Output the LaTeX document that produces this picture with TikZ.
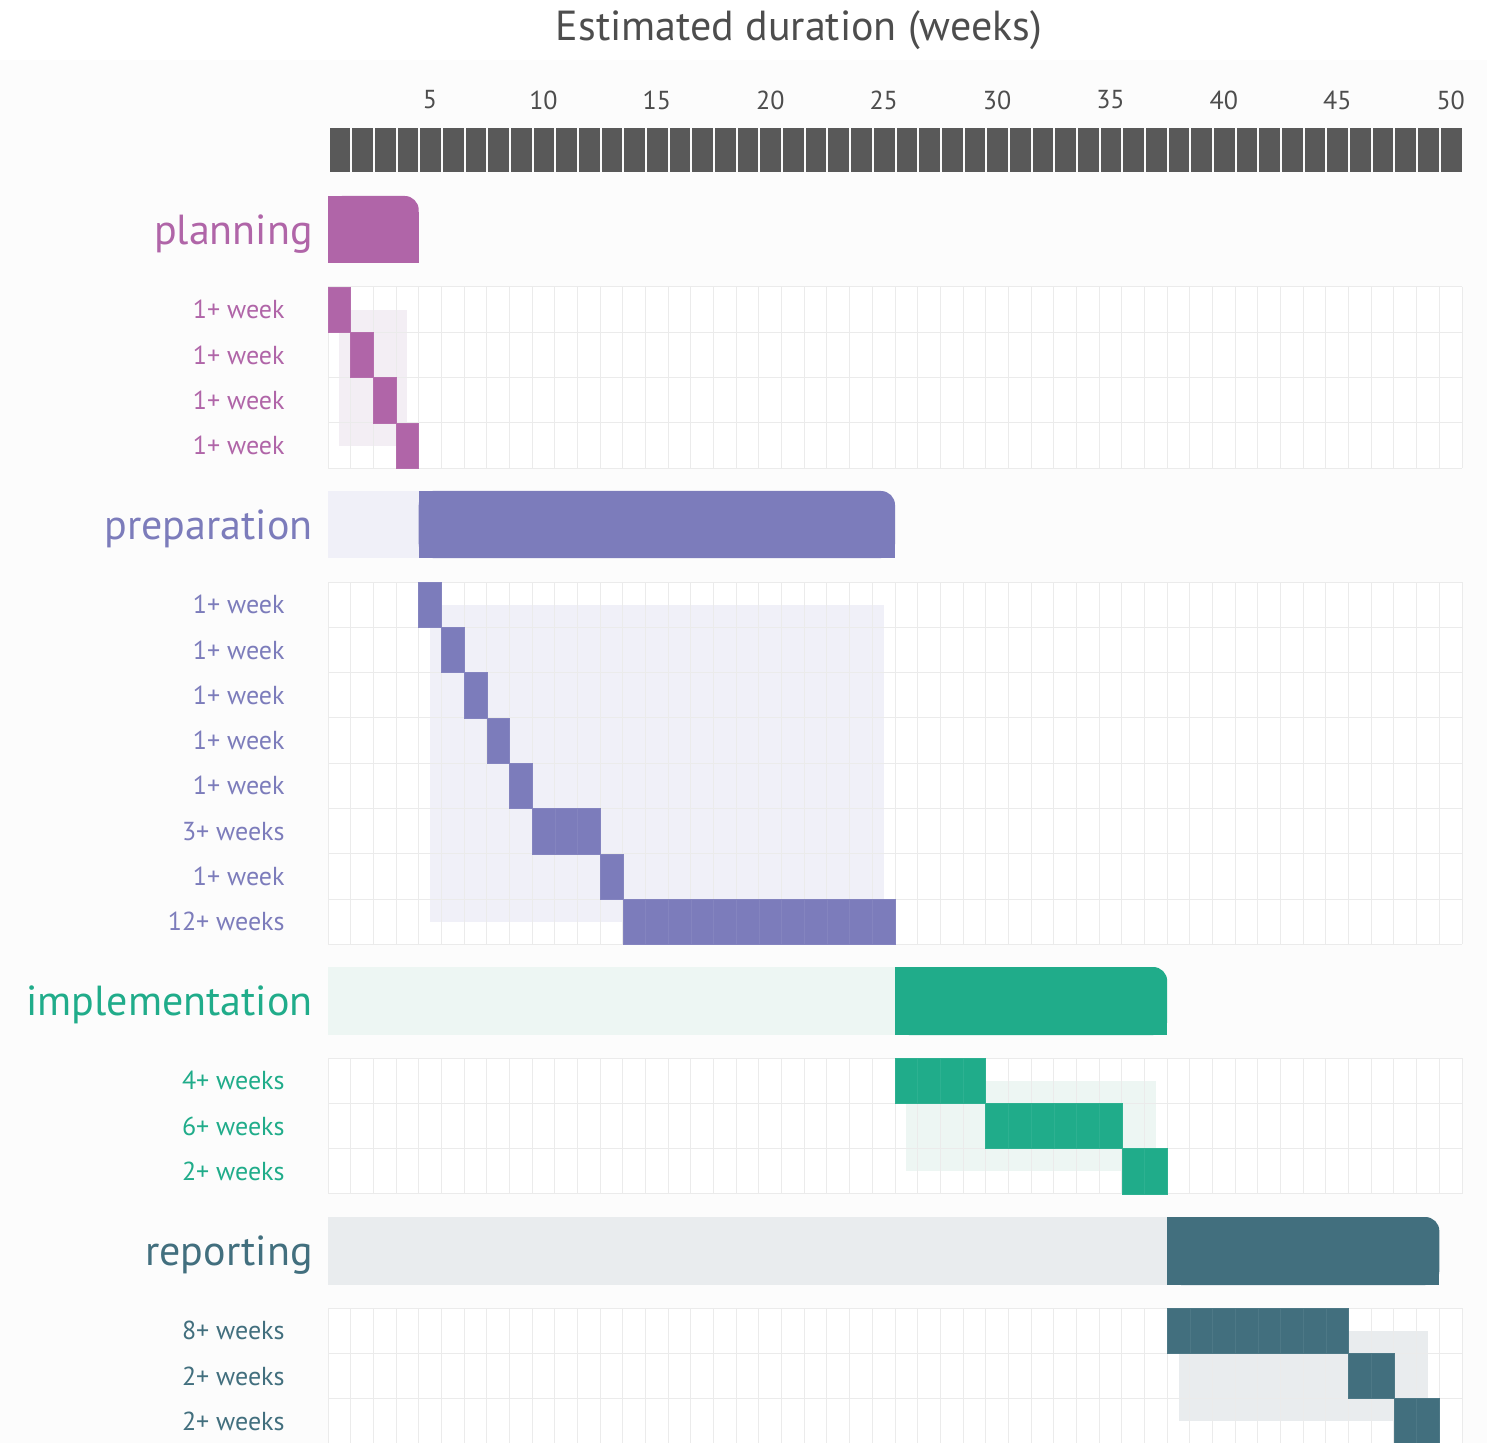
\documentclass[tikz,border=0pt]{standalone}
\usepackage{fontspec}
\setmainfont{PT Sans}
\usetikzlibrary{calc,positioning}
\usepackage{xcolor}
\newcommand{\wkunit}{22.68}
\newcommand{\rowunit}{45.3}
\newcommand{\gridx}{328}
\newcommand{\gridend}{1462}
\definecolor{plancol}{HTML}{B065A8}
\definecolor{prepcol}{HTML}{7C7CBB}
\definecolor{implcol}{HTML}{20AC8A}
\definecolor{repcol}{HTML}{426F7E}
\definecolor{planlight}{HTML}{F3EEF4}
\definecolor{preplight}{HTML}{F0F0F8}
\definecolor{impllight}{HTML}{EDF6F3}
\definecolor{replight}{HTML}{E9ECEE}
\definecolor{pagegray}{HTML}{FCFCFC}
\definecolor{gridgray}{HTML}{EBEBEB}
\definecolor{weekgray}{HTML}{595959}
\definecolor{textgray}{HTML}{4D4D4D}
\tikzset{
    titlesty/.style={text=textgray,font=\fontsize{21}{24}\selectfont,anchor=center,inner sep=0pt},
    ticksty/.style={text=textgray,font=\fontsize{13}{15}\selectfont,anchor=center,inner sep=0pt},
    phasesty/.style={font=\fontsize{21}{24}\selectfont,anchor=east,inner sep=0pt},
    tasksty/.style={font=\fontsize{13}{15}\selectfont,anchor=east,inner sep=0pt},
    weeksty/.style={fill=weekgray},
    gridsty/.style={draw=gridgray,line width=0.5pt},
    cellsty/.style={line width=0.25pt},
}

\begin{document}
\begin{tikzpicture}[x=0.5pt,y=-0.5pt]
\useasboundingbox (0,0) rectangle (1487,1443);
\fill[white] (0,0) rectangle (1487,60);
\fill[pagegray] (0,60) rectangle (1487,1443);

% title and week scale
\node[titlesty] (title) at (799,30) {Estimated duration (weeks)};
\foreach \t in {5,10,...,50}
  \node[ticksty] (tick-\t) at ({\gridx+(\t-0.5)*\wkunit},100) {\t};
\foreach \k in {1,...,50}
  \fill[weeksty] ({\gridx+(\k-1)*\wkunit+1.5},128) rectangle ({\gridx+\k*\wkunit-0.5},172);

% planning
\node[phasesty,text=plancol] (planning) at (313,234) {planning};
\fill[plancol,rounded corners=7pt] (\gridx,196) rectangle ({\gridx+4*\wkunit},263);
\fill[plancol] (\gridx,196) rectangle ({\gridx+4*\wkunit-14},263);
\fill[plancol] (\gridx,212) rectangle ({\gridx+4*\wkunit},263);
\fill[white] (\gridx,287) rectangle (\gridend,{287+4*\rowunit});
\fill[planlight] ({\gridx+0.5*\wkunit},{287+0.5*\rowunit}) rectangle ({\gridx+3.5*\wkunit},{287+3.5*\rowunit});
\foreach \k in {0,...,50}
  \draw[gridsty] ({\gridx+\k*\wkunit},287) -- ++(0,{4*\rowunit});
\foreach \r in {0,...,4}
  \draw[gridsty] (\gridx,{287+\r*\rowunit}) -- (\gridend,{287+\r*\rowunit});
\foreach \r/\a/\b/\lbl in {1/1/1/1+ week,2/2/2/1+ week,3/3/3/1+ week,4/4/4/1+ week}{
  \node[tasksty,text=plancol] (plan-\r) at (285,{287+(\r-0.5)*\rowunit}) {\lbl};
  \foreach \c in {\a,...,\b}
    \filldraw[cellsty,fill=plancol,draw=plancol!94!white] ({\gridx+(\c-1)*\wkunit},{287+(\r-1)*\rowunit}) rectangle ({\gridx+\c*\wkunit},{287+\r*\rowunit});
}

% preparation
\node[phasesty,text=prepcol] (preparation) at (313,529) {preparation};
\fill[preplight] (\gridx,491) rectangle ({\gridx+4*\wkunit},558);
\fill[prepcol,rounded corners=7pt] ({\gridx+4*\wkunit},491) rectangle ({\gridx+25*\wkunit},558);
\fill[prepcol] ({\gridx+4*\wkunit},491) rectangle ({\gridx+25*\wkunit-14},558);
\fill[prepcol] ({\gridx+4*\wkunit},507) rectangle ({\gridx+25*\wkunit},558);
\fill[white] (\gridx,582) rectangle (\gridend,{582+8*\rowunit});
\fill[preplight] ({\gridx+4.5*\wkunit},{582+0.5*\rowunit}) rectangle ({\gridx+24.5*\wkunit},{582+7.5*\rowunit});
\foreach \k in {0,...,50}
  \draw[gridsty] ({\gridx+\k*\wkunit},582) -- ++(0,{8*\rowunit});
\foreach \r in {0,...,8}
  \draw[gridsty] (\gridx,{582+\r*\rowunit}) -- (\gridend,{582+\r*\rowunit});
\foreach \r/\a/\b/\lbl in {1/5/5/1+ week,2/6/6/1+ week,3/7/7/1+ week,4/8/8/1+ week,
    5/9/9/1+ week,6/10/12/3+ weeks,7/13/13/1+ week,8/14/25/12+ weeks}{
  \node[tasksty,text=prepcol] (prep-\r) at (285,{582+(\r-0.5)*\rowunit}) {\lbl};
  \foreach \c in {\a,...,\b}
    \filldraw[cellsty,fill=prepcol,draw=prepcol!94!white] ({\gridx+(\c-1)*\wkunit},{582+(\r-1)*\rowunit}) rectangle ({\gridx+\c*\wkunit},{582+\r*\rowunit});
}

% implementation
\node[phasesty,text=implcol] (implementation) at (313,1005) {implementation};
\fill[impllight] (\gridx,967) rectangle ({\gridx+25*\wkunit},1035);
\fill[implcol,rounded corners=7pt] ({\gridx+25*\wkunit},967) rectangle ({\gridx+37*\wkunit},1035);
\fill[implcol] ({\gridx+25*\wkunit},967) rectangle ({\gridx+37*\wkunit-14},1035);
\fill[implcol] ({\gridx+25*\wkunit},983) rectangle ({\gridx+37*\wkunit},1035);
\fill[white] (\gridx,1058) rectangle (\gridend,{1058+3*\rowunit});
\fill[impllight] ({\gridx+25.5*\wkunit},{1058+0.5*\rowunit}) rectangle ({\gridx+36.5*\wkunit},{1058+2.5*\rowunit});
\foreach \k in {0,...,50}
  \draw[gridsty] ({\gridx+\k*\wkunit},1058) -- ++(0,{3*\rowunit});
\foreach \r in {0,...,3}
  \draw[gridsty] (\gridx,{1058+\r*\rowunit}) -- (\gridend,{1058+\r*\rowunit});
\foreach \r/\a/\b/\lbl in {1/26/29/4+ weeks,2/30/35/6+ weeks,3/36/37/2+ weeks}{
  \node[tasksty,text=implcol] (impl-\r) at (285,{1058+(\r-0.5)*\rowunit}) {\lbl};
  \foreach \c in {\a,...,\b}
    \filldraw[cellsty,fill=implcol,draw=implcol!94!white] ({\gridx+(\c-1)*\wkunit},{1058+(\r-1)*\rowunit}) rectangle ({\gridx+\c*\wkunit},{1058+\r*\rowunit});
}

% reporting
\node[phasesty,text=repcol] (reporting) at (313,1255) {reporting};
\fill[replight] (\gridx,1217) rectangle ({\gridx+37*\wkunit},1285);
\fill[repcol,rounded corners=7pt] ({\gridx+37*\wkunit},1217) rectangle ({\gridx+49*\wkunit},1285);
\fill[repcol] ({\gridx+37*\wkunit},1217) rectangle ({\gridx+49*\wkunit-14},1285);
\fill[repcol] ({\gridx+37*\wkunit},1233) rectangle ({\gridx+49*\wkunit},1285);
\fill[white] (\gridx,1308) rectangle (\gridend,{1308+3*\rowunit});
\fill[replight] ({\gridx+37.5*\wkunit},{1308+0.5*\rowunit}) rectangle ({\gridx+48.5*\wkunit},{1308+2.5*\rowunit});
\foreach \k in {0,...,50}
  \draw[gridsty] ({\gridx+\k*\wkunit},1308) -- ++(0,{3*\rowunit});
\foreach \r in {0,...,3}
  \draw[gridsty] (\gridx,{1308+\r*\rowunit}) -- (\gridend,{1308+\r*\rowunit});
\foreach \r/\a/\b/\lbl in {1/38/45/8+ weeks,2/46/47/2+ weeks,3/48/49/2+ weeks}{
  \node[tasksty,text=repcol] (rep-\r) at (285,{1308+(\r-0.5)*\rowunit}) {\lbl};
  \foreach \c in {\a,...,\b}
    \filldraw[cellsty,fill=repcol,draw=repcol!94!white] ({\gridx+(\c-1)*\wkunit},{1308+(\r-1)*\rowunit}) rectangle ({\gridx+\c*\wkunit},{1308+\r*\rowunit});
}
\end{tikzpicture}
\end{document}
